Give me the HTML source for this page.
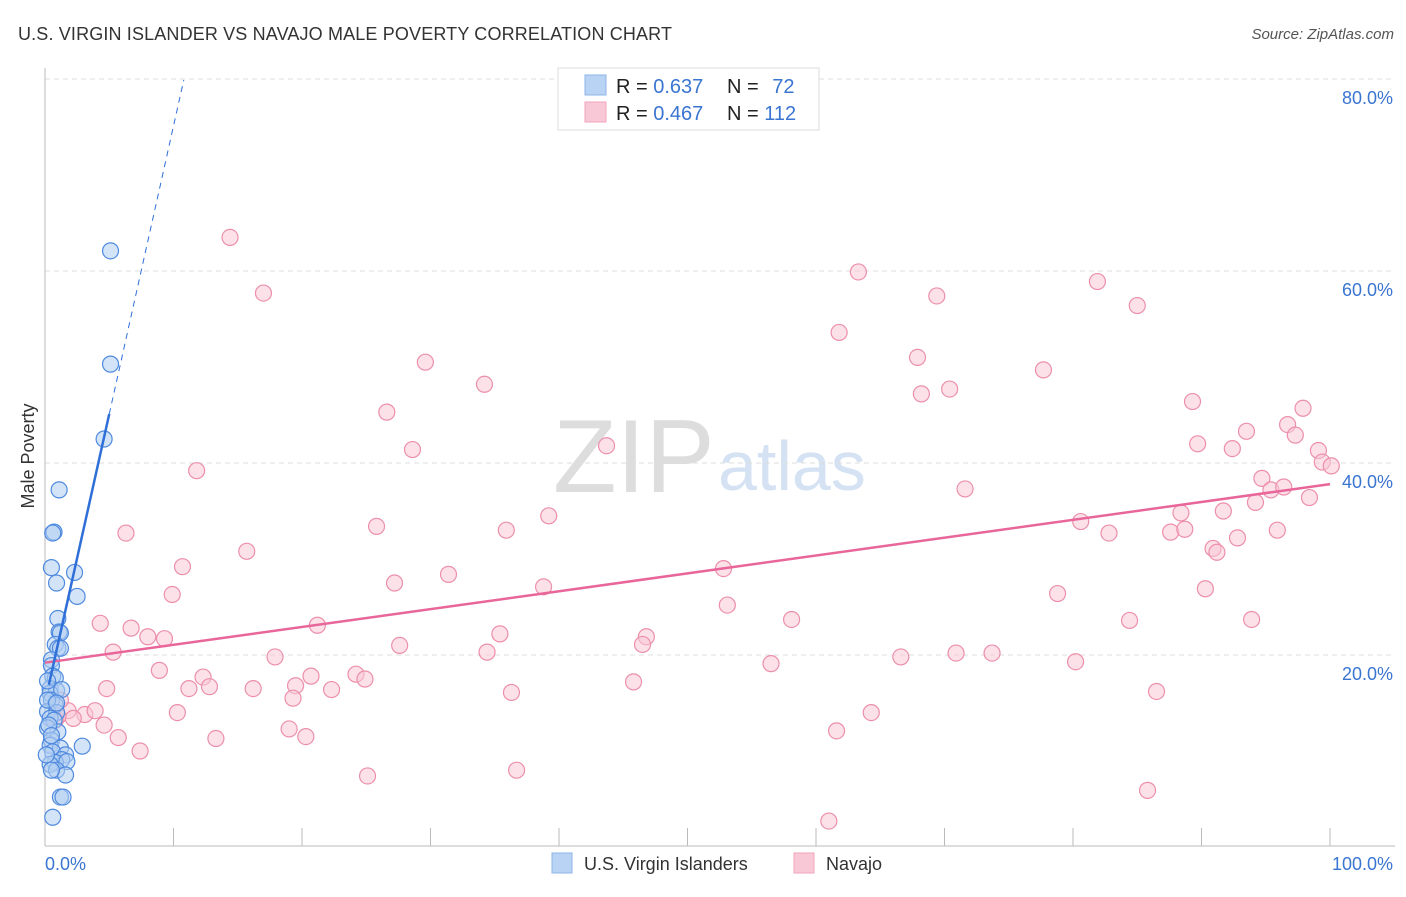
<!DOCTYPE html>
<html><head><meta charset="utf-8"><style>
body{margin:0;background:#fff;font-family:"Liberation Sans",sans-serif;}
svg text{font-family:"Liberation Sans",sans-serif;}
</style></head><body>
<svg id="chart" width="1406" height="892" xmlns="http://www.w3.org/2000/svg">
<text x="18" y="40" font-size="18" fill="#333" textLength="654">U.S. VIRGIN ISLANDER VS NAVAJO MALE POVERTY CORRELATION CHART</text>
<text x="1394" y="39" font-size="15" fill="#555" text-anchor="end" font-style="italic">Source: ZipAtlas.com</text>
<text x="553" y="492" font-size="104" fill="#ddd" font-family="Liberation Serif">ZIP</text>
<text x="718" y="490" font-size="70" fill="#d4e2f4">atlas</text>
<g id="grid"></g>
<g id="axes"></g>
<g id="marks"></g>
<text transform="translate(34,456) rotate(-90)" font-size="18" fill="#333" text-anchor="middle">Male Poverty</text>
<text x="45" y="870" font-size="18" fill="#3a75d1">0.0%</text>
<text x="1393" y="870" font-size="18" fill="#3a75d1" text-anchor="end">100.0%</text>
<g>
<rect x="558" y="68" width="261" height="62" fill="#fff" stroke="#ddd"/>
<rect x="585" y="75" width="21" height="20" fill="#b9d3f4" stroke="#8fb5e8"/>
<rect x="585" y="102" width="21" height="20" fill="#f9c8d6" stroke="#efa5bb"/>
<text x="616" y="93" font-size="20" fill="#222">R = <tspan fill="#3a75d1">0.637</tspan></text>
<text x="727" y="93" font-size="20" fill="#222">N = <tspan fill="#3a75d1" dx="8">72</tspan></text>
<text x="616" y="120" font-size="20" fill="#222">R = <tspan fill="#3a75d1">0.467</tspan></text>
<text x="727" y="120" font-size="20" fill="#222">N = <tspan fill="#3a75d1">112</tspan></text>
</g>
<g>
<rect x="552" y="853" width="20" height="20" fill="#b9d3f4" stroke="#8fb5e8"/>
<text x="584" y="870" font-size="18" fill="#333">U.S. Virgin Islanders</text>
<rect x="794" y="853" width="20" height="20" fill="#f9c8d6" stroke="#efa5bb"/>
<text x="826" y="870" font-size="18" fill="#333">Navajo</text>
</g>
</svg>
<script>
const yTicks=[20,40,60,80];
const xTickCount=10;
const blueX=[5.1,5.1,4.6,1.1,0.7,0.6,0.5,2.3,0.9,2.5,1.0,1.1,1.2,0.8,1.0,1.2,0.5,0.5,0.6,0.8,0.4,0.9,0.4,0.5,0.8,0.2,0.9,0.4,0.7,0.2,1.0,0.5,0.4,1.2,2.9,0.6,1.6,1.3,0.8,0.4,1.7,0.9,1.6,0.5,1.2,1.4,0.6,0.2,0.3,0.5,0.2,1.3,0.9,0.1];
const blueY=[62.1,50.3,42.5,37.2,32.8,32.7,29.1,28.6,27.5,26.1,23.8,22.4,22.3,21.1,20.7,20.7,19.5,18.9,17.8,17.6,16.5,16.3,16.0,15.3,14.8,14.1,14.0,13.4,13.2,12.4,12.0,11.1,10.6,10.3,10.5,9.9,9.6,9.1,8.8,8.6,8.9,8.0,7.5,8.0,5.2,5.2,3.1,15.3,12.7,11.6,17.3,16.4,15.0,9.6];
const pinkX=[14.4,17.0,63.3,81.9,69.4,85.0,61.8,29.6,67.9,77.7,34.2,70.4,68.2,26.6,89.3,97.9,96.7,93.5,97.3,28.6,43.7,89.7,92.4,99.1,99.4,100.1,11.8,71.6,94.7,95.4,96.4,94.2,98.4,39.2,88.4,91.7,25.8,35.9,80.6,95.9,6.3,82.8,87.6,88.7,92.8,15.7,90.9,91.2,10.7,52.8,31.4,27.2,38.8,9.9,78.8,90.3,53.1,4.3,58.1,84.4,93.9,6.7,21.2,8.0,9.3,35.4,46.8,46.5,27.6,5.3,34.4,66.6,70.9,73.7,17.9,80.2,56.5,8.9,12.3,24.2,20.7,24.9,19.5,11.2,12.8,16.2,22.3,45.8,36.3,4.8,86.5,19.3,3.1,3.9,10.3,64.3,1.8,2.2,1.0,4.6,19.0,20.3,5.7,13.3,61.6,7.4,25.1,36.7,85.8,61.0,0.8,1.2];
const pinkY=[63.5,57.7,59.9,58.9,57.4,56.4,53.6,50.5,51.0,49.7,48.2,47.7,47.2,45.3,46.4,45.7,44.0,43.3,42.9,41.4,41.8,42.0,41.5,41.3,40.1,39.7,39.2,37.3,38.4,37.2,37.5,35.9,36.4,34.5,34.8,35.0,33.4,33.0,33.9,33.0,32.7,32.7,32.8,33.1,32.2,30.8,31.1,30.7,29.2,29.0,28.4,27.5,27.1,26.3,26.4,26.9,25.2,23.3,23.7,23.6,23.7,22.8,23.1,21.9,21.7,22.2,21.9,21.1,21.0,20.3,20.3,19.8,20.2,20.2,19.8,19.3,19.1,18.4,17.7,18.0,17.8,17.5,16.8,16.5,16.7,16.5,16.4,17.2,16.1,16.5,16.2,15.5,13.8,14.2,14.0,14.0,14.2,13.4,13.6,12.7,12.3,11.5,11.4,11.3,12.1,10.0,7.4,8.0,5.9,2.7,13.2,15.3];
const blueFit=[15.1,6.0]; // intercept, slope per %
const pinkFit=[19.2,0.186];
const X0=45,X1=1330,Y0=847,PY=9.6;
const sx=v=>X0+(X1-X0)*v/100, sy=v=>Y0-v*PY;
const NS="http://www.w3.org/2000/svg";
function mk(tag,attrs,parent){const e=document.createElementNS(NS,tag);for(const k in attrs)e.setAttribute(k,attrs[k]);parent.appendChild(e);return e;}
const grid=document.getElementById('grid'),axes=document.getElementById('axes'),marks=document.getElementById('marks');
yTicks.forEach(t=>{
 const l=mk('line',{x1:45,x2:1395,y1:sy(t),y2:sy(t),stroke:'#ddd','stroke-dasharray':'5,4'},grid);
 
 
 const tx=mk('text',{x:1393,y:sy(t)+25,'font-size':18,fill:'#3a75d1','text-anchor':'end'},grid);
 tx.textContent=t.toFixed(1)+'%';
 
 
});
let a=mk('line',{x1:45,x2:45,y1:68,y2:846,stroke:'#bbb'},axes);


a=mk('line',{x1:45,x2:1395,y1:846,y2:846,stroke:'#bbb'},axes);


for(let i=1;i<=xTickCount;i++){
 const t=mk('line',{x1:sx(i*10),x2:sx(i*10),y1:828,y2:846,stroke:'#bbb'},axes);
 
 
}
function dots(xs,ys,fill,stroke,name){
 xs.forEach((x,i)=>{
  const c=mk('circle',{cx:sx(x),cy:sy(ys[i]),r:8,fill:fill,'fill-opacity':0.55,stroke:stroke,'stroke-width':1.2},marks);
  
  
 });
}
dots(pinkX,pinkY,'#f9c8d6','#ec8fab','navajo-point');
dots(blueX,blueY,'#b0cdf2','#4f8ade','virgin-islander-point');
let ln=mk('line',{x1:sx(0),y1:sy(pinkFit[0]),x2:sx(100),y2:sy(pinkFit[0]+pinkFit[1]*100),stroke:'#e8669a','stroke-width':2.5},marks);


const bf=x=>blueFit[0]+blueFit[1]*x;
ln=mk('line',{x1:sx(0.3),y1:sy(bf(0.3)),x2:sx(5),y2:sy(bf(5)),stroke:'#2f6fd8','stroke-width':2.5},marks);


ln=mk('line',{x1:sx(5),y1:sy(bf(5)),x2:sx(10.8),y2:sy(bf(10.8)),stroke:'#2f6fd8','stroke-width':1,'stroke-dasharray':'6,5'},marks);


</script>
</body></html>
